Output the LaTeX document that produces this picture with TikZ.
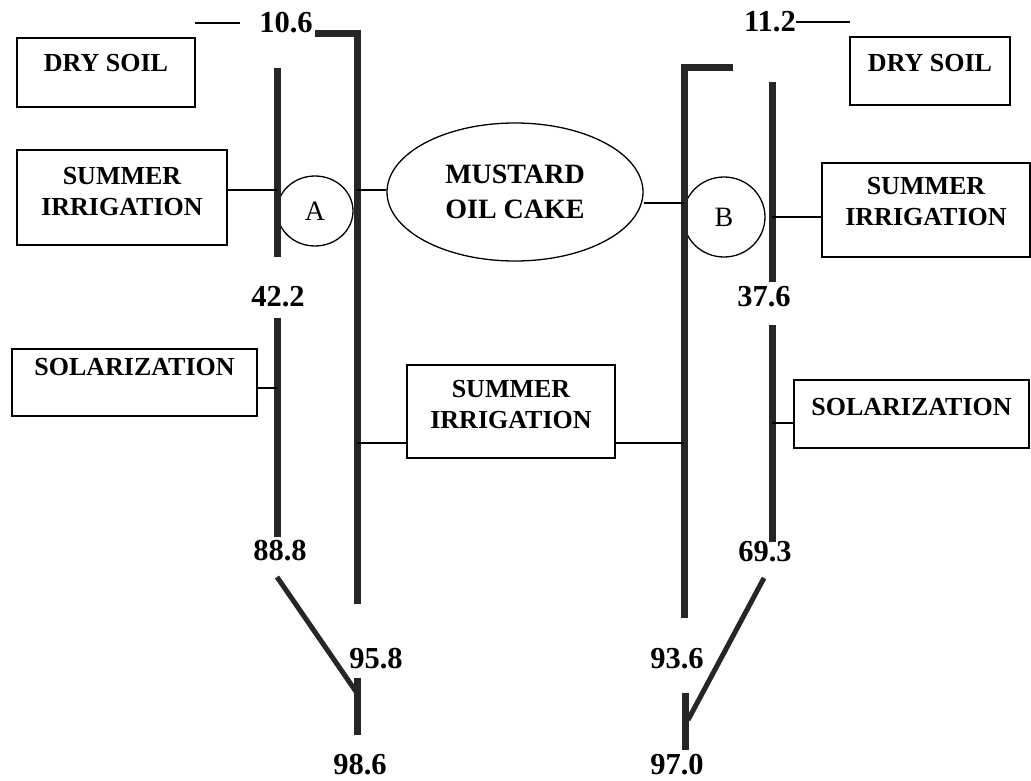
\documentclass[tikz,border=0pt]{standalone}
\usepackage{fontspec}
\setmainfont{Liberation Serif}
\usetikzlibrary{shapes.geometric}
\begin{document}
\begin{tikzpicture}[x=1pt,y=-1pt,
  box/.style={draw,line width=1.3pt,inner sep=0pt,font=\bfseries\fontsize{26}{31}\selectfont,anchor=base},
  val/.style={inner sep=0pt,font=\bfseries\fontsize{30.5}{30}\selectfont},
  bar/.style={line width=7pt,draw=black!85},
  slantbar/.style={line width=5pt,draw=black!85},
  conn/.style={line width=1.3pt},
  oval/.style={ellipse,draw,line width=1.3pt,inner sep=0pt}]
\useasboundingbox (0,0) rectangle (1031,781);

% boxes
\node[box,minimum width=178pt,text height=34pt,text depth=35pt] (dryL) at (106,72) {DRY SOIL};
\node[box,minimum width=160pt,text height=35pt,text depth=33pt] (dryR) at (930,72) {DRY SOIL};
\node[box,minimum width=210pt,text height=65pt,text depth=30pt] (sumL) at (122,215) {\begin{tabular}[b]{@{}c@{}}SUMMER\\IRRIGATION\end{tabular}};
\node[box,minimum width=208pt,text height=62pt,text depth=32pt] (sumR) at (926,225) {\begin{tabular}[b]{@{}c@{}}SUMMER\\IRRIGATION\end{tabular}};
\node[box,minimum width=208pt,text height=63pt,text depth=30pt] (sumM) at (511,428) {\begin{tabular}[b]{@{}c@{}}SUMMER\\IRRIGATION\end{tabular}};
\node[box,minimum width=245pt,text height=26pt,text depth=41pt] (solL) at (134.5,375) {SOLARIZATION};
\node[box,minimum width=235pt,text height=35pt,text depth=33pt] (solR) at (911.5,415) {SOLARIZATION};

% ovals
\node[oval,minimum width=256pt,minimum height=138pt,align=center,font=\bfseries\fontsize{28}{35}\selectfont] (mustard) at (515,192) {MUSTARD\\OIL CAKE};
\node[oval,minimum width=76pt,minimum height=70pt,font=\fontsize{28}{28}\selectfont] (A) at (315,211) {A};
\node[oval,minimum width=82pt,minimum height=80pt,font=\fontsize{28}{28}\selectfont] (B) at (724,217) {B};

% values
\node[val] (v106) at (286,23) {10.6};
\node[val] (v112) at (770,22) {11.2};
\node[val] (v422) at (278,297) {42.2};
\node[val] (v888) at (280,551) {88.8};
\node[val] (v376) at (764,297) {37.6};
\node[val] (v693) at (765,552) {69.3};
\node[val] (v958) at (376,659) {95.8};
\node[val] (v986) at (360,765) {98.6};
\node[val] (v936) at (677,659) {93.6};
\node[val] (v970) at (677,765) {97.0};

% bar coordinates
\coordinate (LB1) at (315,34);
\coordinate (LB2) at (357,34);
\coordinate (LB3) at (357,604);
\coordinate (LIa1) at (277,68);
\coordinate (LIa2) at (277,257);
\coordinate (LIb1) at (277,318);
\coordinate (LIb2) at (277,537);
\coordinate (LD1) at (277,577);
\coordinate (LD2) at (357,693);
\coordinate (LS1) at (357,678);
\coordinate (LS2) at (357,735);
\coordinate (RB1) at (733,68);
\coordinate (RB2) at (684,68);
\coordinate (RB3) at (684,618);
\coordinate (RIa1) at (772,82);
\coordinate (RIa2) at (772,282);
\coordinate (RIb1) at (772,325);
\coordinate (RIb2) at (772,542);
\coordinate (RD1) at (764,578);
\coordinate (RD2) at (688,720);
\coordinate (RS1) at (685,693);
\coordinate (RS2) at (685,750);

% bars
\draw[bar] (LB1) -- (LB2) -- (LB3);
\draw[bar] (LIa1) -- (LIa2);
\draw[bar] (LIb1) -- (LIb2);
\draw[slantbar] (LD1) -- (LD2);
\draw[bar] (LS1) -- (LS2);
\draw[bar] (RB1) -- (RB2) -- (RB3);
\draw[bar] (RIa1) -- (RIa2);
\draw[bar] (RIb1) -- (RIb2);
\draw[slantbar] (RD1) -- (RD2);
\draw[bar] (RS1) -- (RS2);

% junction coordinates
\coordinate (jA) at (277,190);
\coordinate (jE1) at (357,190);
\coordinate (jE2) at (684,203);
\coordinate (jRS) at (772,217);
\coordinate (jSL) at (277,388);
\coordinate (jSR) at (772,423);
\coordinate (jM1) at (357,443);
\coordinate (jM2) at (684,443);
\coordinate (t1) at (195,23);
\coordinate (t2) at (240,23);
\coordinate (t3) at (850,22);

% connectors
\draw[conn] (jA -| sumL.east) -- (jA);
\draw[conn] (jE1) -- (jE1 -| mustard.west);
\draw[conn] (jE2) -- (jE2 -| mustard.east);
\draw[conn] (jRS) -- (jRS -| sumR.west);
\draw[conn] (jSL -| solL.east) -- (jSL);
\draw[conn] (jSR) -- (jSR -| solR.west);
\draw[conn] (jM1) -- (jM1 -| sumM.west);
\draw[conn] (jM2 -| sumM.east) -- (jM2);
\draw[conn] (t1) -- (t2);
\draw[conn] (v112.east) -- (t3);
\end{tikzpicture}
\end{document}
